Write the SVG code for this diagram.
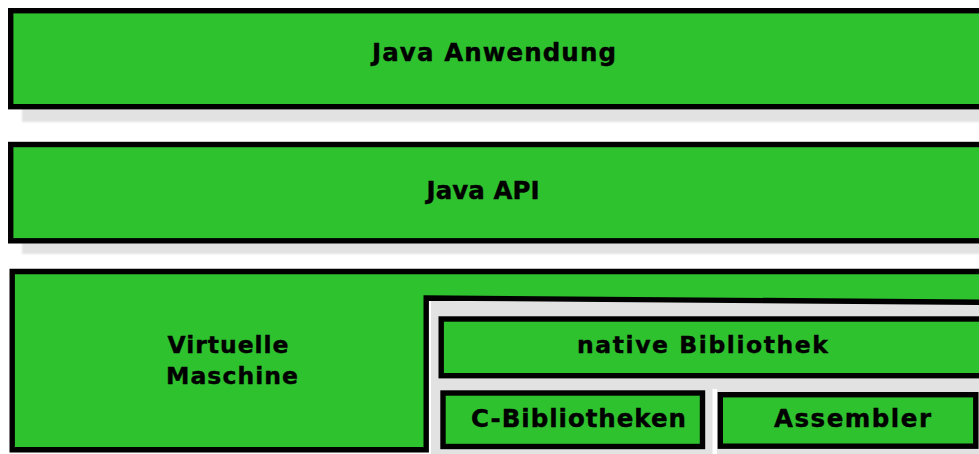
<svg xmlns="http://www.w3.org/2000/svg" width="979" height="454" viewBox="0 0 979 454">
<defs>
<style>
.box{fill:#2fc22f;stroke:#000;stroke-width:5.4}
.shadow{fill:#e2e2e2}
.t{font-family:"DejaVu Sans","Liberation Sans",sans-serif;font-weight:bold;fill:#000;stroke:#000;stroke-width:0.4;text-anchor:middle}
</style>
<filter id="soft" x="-5%" y="-50%" width="110%" height="200%"><feGaussianBlur stdDeviation="1"/></filter>
</defs>
<rect width="979" height="454" fill="#fff"/>
<g id="shadows" filter="url(#soft)">
<rect class="shadow" x="22" y="108" width="970" height="14"/>
<rect class="shadow" x="22" y="242" width="970" height="12"/>
</g>
<g id="java-anwendung">
<rect class="box" x="10.7" y="10.7" width="980" height="96"/>
<text class="t" x="494" y="60.5" font-size="24.5" textLength="244" lengthAdjust="spacing">Java Anwendung</text>
</g>
<g id="java-api">
<rect class="box" x="10.7" y="144.5" width="980" height="96.3"/>
<text class="t" x="483" y="198.5" font-size="24.5" textLength="113" lengthAdjust="spacing">Java API</text>
</g>
<g id="native-area">
<polygon class="shadow" points="431,301 985,304 985,460 431,460"/>
<rect x="712.5" y="389" width="4.5" height="66" fill="#fff"/>
</g>
<g id="virtuelle-maschine">
<polygon class="box" points="12.2,271.5 990,271.5 990,302.3 426.2,298 426.2,449.7 12.2,449.7"/>
<text class="t" font-size="23.5"><tspan x="228" y="352.5" textLength="121" lengthAdjust="spacing">Virtuelle</tspan><tspan x="232" y="383.5" textLength="132" lengthAdjust="spacing">Maschine</tspan></text>
</g>
<g id="native-bibliothek">
<rect class="box" x="441.2" y="319" width="550" height="56.7"/>
<text class="t" x="702.5" y="353" font-size="23.5" textLength="251" lengthAdjust="spacing">native Bibliothek</text>
</g>
<g id="c-bibliotheken">
<rect class="box" x="443" y="393" width="259.5" height="53.5"/>
<text class="t" x="578.5" y="426.5" font-size="24.5" textLength="215" lengthAdjust="spacing">C-Bibliotheken</text>
</g>
<g id="assembler">
<rect class="box" x="720.3" y="394.7" width="255.5" height="51.5"/>
<text class="t" x="852.5" y="426.5" font-size="24.5" textLength="157" lengthAdjust="spacing">Assembler</text>
</g>
<g id="connectors"/>
</svg>
